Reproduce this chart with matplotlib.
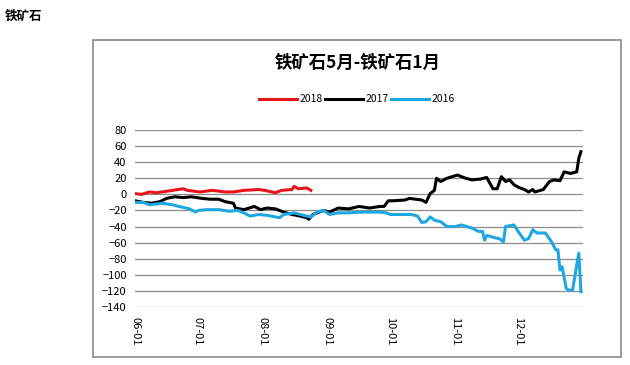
import pandas as pd
import matplotlib
matplotlib.use('Agg')
import matplotlib.pyplot as plt
import matplotlib.dates as mdates
from matplotlib.patches import Rectangle

plt.rcParams['font.family'] = ['Noto Sans CJK SC', 'DejaVu Sans']

# spread values, dates as month-day
dates_2018 = ['06-01', '06-04', '06-08', '06-11', '06-14', '06-19', '06-24', '06-26', '07-02', '07-05',
              '07-08', '07-14', '07-18', '07-23', '07-30', '08-02', '08-07', '08-10', '08-15', '08-16',
              '08-18', '08-22', '08-24']
vals_2018 = [1, 0, 3, 2, 3, 5, 7, 5, 3, 4,
             5, 3, 3, 5, 6, 5, 2, 5, 6, 10,
             7, 8, 5]

dates_2017 = ['06-01', '06-05', '06-09', '06-13', '06-16', '06-20', '06-24', '06-28', '07-03', '07-07',
              '07-11', '07-14', '07-18', '07-19', '07-23', '07-28', '07-31', '08-03', '08-07', '08-11',
              '08-15', '08-19', '08-22', '08-23', '08-25', '08-30', '09-02', '09-06', '09-11', '09-16',
              '09-21', '09-26', '09-28', '09-30', '10-02', '10-08', '10-10', '10-13', '10-16', '10-18',
              '10-20', '10-22', '10-23', '10-25', '10-28', '11-02', '11-06', '11-09', '11-13', '11-16',
              '11-19', '11-21', '11-23', '11-25', '11-27', '11-29', '12-01', '12-04', '12-06', '12-08',
              '12-09', '12-13', '12-16', '12-18', '12-21', '12-23', '12-26', '12-29', '12-30', '12-31']
vals_2017 = [-8, -10, -11, -9, -5, -3, -4, -3, -5, -6,
             -6, -9, -11, -17, -19, -15, -19, -17, -18, -22,
             -25, -27, -29, -31, -25, -20, -22, -17, -18, -15,
             -17, -15, -15, -8, -8, -7, -5, -6, -7, -10,
             1, 5, 20, 16, 20, 24, 20, 18, 19, 21,
             7, 7, 22, 16, 18, 12, 9, 6, 3, 6,
             3, 6, 16, 18, 17, 28, 26, 28, 45, 53]

dates_2016 = ['06-01', '06-05', '06-08', '06-14', '06-19', '06-22', '06-27', '06-30', '07-01', '07-05',
              '07-11', '07-16', '07-20', '07-23', '07-26', '07-30', '08-03', '08-07', '08-09', '08-11',
              '08-16', '08-19', '08-22', '08-24', '08-27', '08-30', '09-02', '09-06', '09-10', '09-18',
              '09-26', '09-29', '10-01', '10-11', '10-14', '10-16', '10-18', '10-20', '10-22', '10-25',
              '10-28', '11-01', '11-04', '11-09', '11-12', '11-14', '11-15', '11-16', '11-20', '11-22',
              '11-24', '11-25', '11-29', '12-01', '12-04', '12-06', '12-08', '12-10', '12-14', '12-17',
              '12-19', '12-20', '12-21', '12-22', '12-24', '12-25', '12-27', '12-30', '12-31']
vals_2016 = [-10, -10, -13, -11, -13, -15, -18, -22, -20, -19,
             -19, -21, -20, -23, -27, -25, -26, -28, -29, -25,
             -23, -25, -27, -28, -22, -20, -25, -23, -23, -22,
             -22, -23, -25, -25, -27, -35, -34, -28, -32, -34,
             -40, -40, -38, -42, -46, -46, -57, -51, -54, -55,
             -59, -40, -38, -46, -57, -55, -44, -48, -48, -59,
             -69, -69, -94, -90, -117, -119, -119, -73, -121]

series = [('2018', dates_2018, vals_2018, '#e8141c'),
          ('2017', dates_2017, vals_2017, '#000000'),
          ('2016', dates_2016, vals_2016, '#1ea7e1')]

fig = plt.figure(figsize=(6.3, 3.65), dpi=100)
ax = fig.add_axes([0.2143, 0.1589, 0.7111, 0.4849])

for name, d, v, c in series:
    x = pd.to_datetime(['2017-' + s for s in d])
    ax.plot(x, v, color=c, lw=2.2, label=name, solid_joinstyle='round')

ax.set_xlim(pd.Timestamp('2017-06-01'), pd.Timestamp('2018-01-01'))
ax.set_ylim(-140, 80)
ax.set_yticks(range(-140, 81, 20))
ax.xaxis.set_major_locator(mdates.MonthLocator(bymonth=range(6, 13)))
ax.xaxis.set_major_formatter(mdates.DateFormatter('%m-%d'))
ax.tick_params(axis='x', labelrotation=-90, length=0, labelsize=8, pad=7)
ax.tick_params(axis='y', length=0, labelsize=8, pad=6)
ax.grid(axis='y', color='#8c8c8c', lw=0.9)
ax.set_axisbelow(True)
for sp in ax.spines.values():
    sp.set_visible(False)

fig.text(0.008, 0.955, '铁矿石', fontsize=9, fontweight='bold', style='italic', va='center')
fig.text(0.567, 0.827, '铁矿石5月-铁矿石1月', fontsize=12.5, fontweight='bold', ha='center', va='center')
fig.legend(loc='center', bbox_to_anchor=(0.567, 0.728), ncol=3, frameon=False, fontsize=7.5,
           handlelength=3.6, handletextpad=0.3, columnspacing=0.2)

fig.patches.append(Rectangle((0.1476, 0.0219), 0.838, 0.8685, transform=fig.transFigure,
                             fill=False, edgecolor='#8a8a8a', lw=1.2))

fig.savefig('out.png', dpi=100)
